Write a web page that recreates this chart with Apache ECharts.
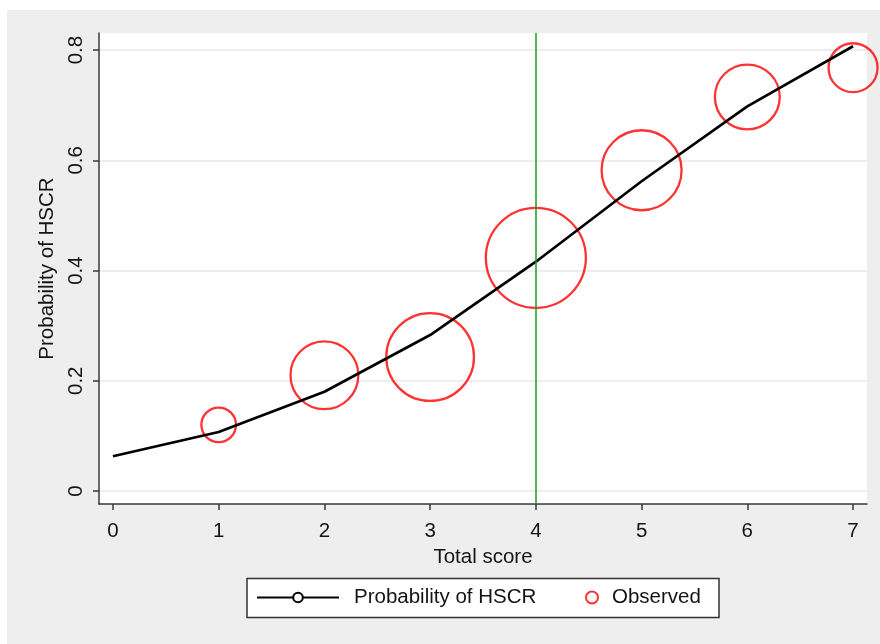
<!DOCTYPE html>
<html><head><meta charset="utf-8">
<script src="https://cdn.jsdelivr.net/npm/echarts@6/dist/echarts.min.js"></script>
<style>
html,body{margin:0;padding:0;background:#fff;}
#bg{position:absolute;left:7px;top:10px;width:873px;height:634px;background:#eeeeee;}
#chart{position:absolute;left:0;top:0;width:880px;height:644px;}
</style></head><body>
<div id="bg"></div><div id="chart"></div>
<script>
const scores = [0, 1, 2, 3, 4, 5, 6, 7];
const predicted = [0.063, 0.107, 0.180, 0.283, 0.416, 0.562, 0.698, 0.807];
const obsScores = [1, 2, 3, 4, 5, 6, 7];
const observed = [0.120, 0.210, 0.243, 0.423, 0.582, 0.715, 0.768];
const obsWeight = [12, 46, 77, 100, 64, 42, 24];
const xTicks = [0, 1, 2, 3, 4, 5, 6, 7];
const yTicks = [0, 0.2, 0.4, 0.6, 0.8];
const cutoff = 4;

const FONT = "'Liberation Sans', Arial, sans-serif";
const TXT = '#141414';
const AX = '#3a3a3a';
const FS = 20.5;

const chart = echarts.init(document.getElementById('chart'), null, {renderer: 'canvas'});
chart.setOption({
  animation: false,
  backgroundColor: 'transparent',
  textStyle: {fontFamily: FONT},
  grid: {left: 99, top: 33, right: 13, bottom: 140, show: true, backgroundColor: '#ffffff', borderWidth: 0},
  graphic: [{
    type: 'rect', z: 0,
    shape: {x: 247, y: 578.5, width: 472, height: 39},
    style: {fill: '#ffffff', stroke: '#333333', lineWidth: 1.5}
  }],
  legend: [{
    data: ['Probability of HSCR'], left: 256, top: 587, padding: 0,
    itemWidth: 82, itemHeight: 12, selectedMode: false,
    textStyle: {fontSize: FS, color: TXT, fontFamily: FONT, padding: [0, 0, 0, 10]}
  }, {
    data: [{name: 'Observed', icon: 'circle'}], left: 585, top: 587, padding: 0,
    itemWidth: 12, itemHeight: 12, selectedMode: false,
    itemStyle: {color: 'rgba(255,255,255,0)', borderColor: '#ff0000', borderWidth: 2},
    textStyle: {fontSize: FS, color: TXT, fontFamily: FONT, padding: [0, 0, 0, 9]}
  }],
  xAxis: {
    type: 'value', min: -0.132, max: 7.132,
    name: 'Total score', nameLocation: 'middle', nameGap: 38,
    nameTextStyle: {fontSize: FS, color: TXT, fontFamily: FONT},
    axisLine: {show: true, onZero: false, lineStyle: {color: AX, width: 1.5}},
    axisTick: {show: true, customValues: xTicks, length: 6, lineStyle: {color: AX, width: 1.5}},
    axisLabel: {customValues: xTicks, margin: 17, fontSize: FS, color: TXT, fontFamily: FONT},
    splitLine: {show: false}
  },
  yAxis: {
    type: 'value', min: -0.0236, max: 0.831,
    name: 'Probability of HSCR', nameLocation: 'middle', nameGap: 38, nameRotate: 90,
    nameTextStyle: {fontSize: FS, color: TXT, fontFamily: FONT},
    axisLine: {show: true, onZero: false, lineStyle: {color: AX, width: 1.5}},
    axisTick: {show: true, customValues: yTicks, length: 6, lineStyle: {color: AX, width: 1.5}},
    axisLabel: {customValues: yTicks, rotate: 90, margin: 12, fontSize: FS, color: TXT, fontFamily: FONT},
    splitLine: {show: true, lineStyle: {color: '#e8e8e8', width: 1.5}}
  },
  series: [{
    name: 'Observed', type: 'scatter', clip: false, z: 2,
    data: obsScores.map((x, i) => [x, observed[i], obsWeight[i]]),
    symbol: 'circle',
    symbolSize: v => 10 * Math.sqrt(v[2]),
    itemStyle: {color: 'rgba(255,255,255,0)', borderColor: '#ff0000', borderWidth: 2.3}
  }, {
    name: 'Probability of HSCR', type: 'line', z: 3,
    data: scores.map((x, i) => [x, predicted[i]]),
    symbol: 'emptyCircle', symbolSize: 9, showSymbol: false,
    lineStyle: {color: '#000000', width: 2.7},
    itemStyle: {color: '#000000', borderWidth: 2},
    markLine: {
      silent: true, symbol: ['none', 'none'], label: {show: false},
      lineStyle: {color: '#1e9a1e', width: 1.5, type: 'solid'},
      data: [{xAxis: cutoff}]
    }
  }]
});
</script>
</body></html>
